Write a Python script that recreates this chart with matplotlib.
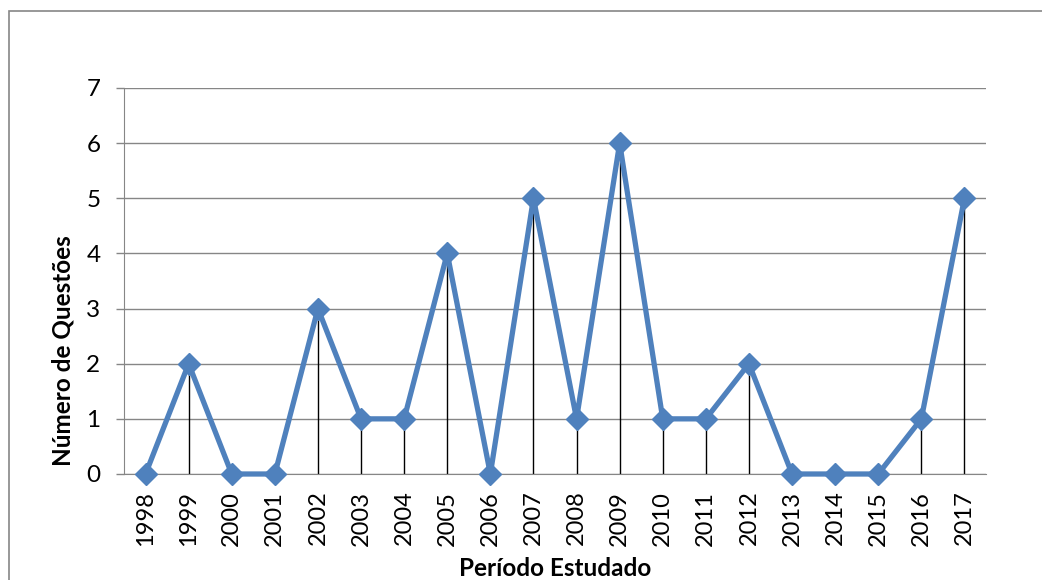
import matplotlib.pyplot as plt
from matplotlib.patches import Rectangle

anos = ['1998', '1999', '2000', '2001', '2002', '2003', '2004', '2005', '2006', '2007',
        '2008', '2009', '2010', '2011', '2012', '2013', '2014', '2015', '2016', '2017']
questoes = [0, 2, 0, 0, 3, 1, 1, 4, 0, 5, 1, 6, 1, 1, 2, 0, 0, 0, 1, 5]

plt.rcParams['font.family'] = ['Lato', 'DejaVu Sans']

fig = plt.figure(figsize=(10.42, 5.8), dpi=100)
ax = fig.add_axes([124 / 1042, 1 - 474 / 580, 862 / 1042, 386 / 580])

# borda do grafico (so esquerda e topo aparecem)
fig.patches.append(Rectangle((9 / 1042, -0.5), 1.2, 1 - 11 / 580 + 0.5,
                             transform=fig.transFigure, fill=False,
                             edgecolor='#868686', linewidth=1.2))

x = list(range(len(anos)))
ax.vlines(x, 0, questoes, colors='black', linewidth=1, zorder=2)
ax.plot(x, questoes, color='#4F81BD', linewidth=3.8, marker='D', markersize=11,
        zorder=3, clip_on=False)

ax.set_xlim(-0.5, len(anos) - 0.5)
ax.set_ylim(0, 7)
ax.set_yticks(range(8))
ax.set_xticks(x)
ax.set_xticklabels(anos, rotation=90)
ax.tick_params(axis='x', length=0, pad=12, labelsize=17)
ax.tick_params(axis='y', length=6, width=1, color='#868686', pad=11, labelsize=17.5)
ax.yaxis.grid(True, color='#868686', linewidth=1)
ax.set_axisbelow(True)

for s in ['top', 'right']:
    ax.spines[s].set_visible(False)
ax.spines['left'].set_color('#868686')
ax.spines['bottom'].set_color('#868686')

ax.set_ylabel('Número de Questões', fontsize=17.5, fontweight='bold')
ax.set_xlabel('Período Estudado', fontsize=17.5, fontweight='bold')
ax.xaxis.set_label_coords(0.5, -0.215)
ax.yaxis.set_label_coords(-0.057, 0.32)

fig.savefig('out.png', dpi=100)
